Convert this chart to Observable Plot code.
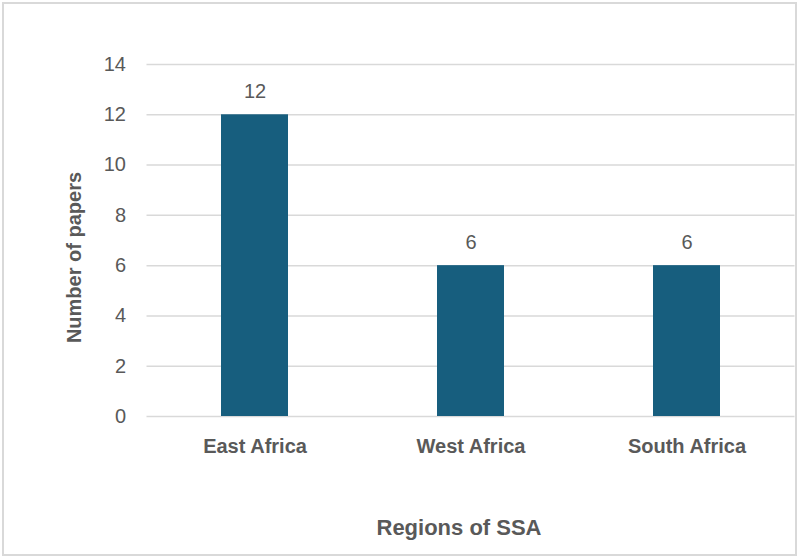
<!DOCTYPE html>
<html>
<head>
<meta charset="utf-8">
<script src="https://cdn.jsdelivr.net/npm/d3@7"></script>
<script src="https://cdn.jsdelivr.net/npm/@observablehq/plot@0.6"></script>
<style>
  html, body { margin: 0; padding: 0; background: #fff; }
  #chart { position: relative; width: 799px; height: 559px; }
  #chart svg { display: block; }
</style>
</head>
<body>
<div id="chart"></div>
<script>
// Papers per region of Sub-Saharan Africa
const regions = ["East Africa", "West Africa", "South Africa"];
const papers = [12, 6, 6];
const yTicks = [0, 2, 4, 6, 8, 10, 12, 14];

const data = regions.map((region, i) => ({region, papers: papers[i]}));

const grey = "#595959";
const font = "Liberation Sans, Arial, sans-serif";

const chart = Plot.plot({
  width: 799,
  height: 559,
  marginTop: 64,
  marginBottom: 143,
  marginLeft: 146.5,
  marginRight: 4.5,
  style: {fontFamily: font, color: grey, background: "#fff"},
  x: {domain: regions, paddingInner: 0.69, paddingOuter: 0.345, label: null},
  y: {domain: [0, 14], ticks: yTicks, label: null},
  marks: [
    Plot.ruleY(yTicks, {stroke: "#d9d9d9", strokeWidth: 1.5}),
    Plot.barY(data, {x: "region", y: "papers", fill: "#175e7e"}),
    Plot.text(data, {
      x: "region", y: "papers", text: d => String(d.papers),
      lineAnchor: "bottom", dy: -17, fontSize: 20, fill: grey
    }),
    Plot.axisY({
      ticks: yTicks, tickSize: 0, tickPadding: 21, fontSize: 20,
      label: null, fill: grey
    }),
    Plot.axisX({
      tickSize: 0, tickPadding: 22, fontSize: 20, fontWeight: "bold",
      label: null, fill: grey
    }),
    Plot.text(["Number of papers"], {
      frameAnchor: "left", textAnchor: "middle", lineAnchor: "middle",
      rotate: -90, dx: -72, dy: 17,
      fontSize: 20, fontWeight: "bold", fill: grey
    }),
    Plot.text(["Regions of SSA"], {
      frameAnchor: "bottom", textAnchor: "middle", lineAnchor: "middle",
      dx: -12, dy: 111,
      fontSize: 22, fontWeight: "bold", fill: grey
    })
  ]
});

// Outer chart border
d3.select(chart).append("rect")
  .attr("x", 3).attr("y", 3).attr("width", 793).attr("height", 552)
  .attr("fill", "none").attr("stroke", "#d9d9d9").attr("stroke-width", 2);

document.getElementById("chart").appendChild(chart);
</script>
</body>
</html>
